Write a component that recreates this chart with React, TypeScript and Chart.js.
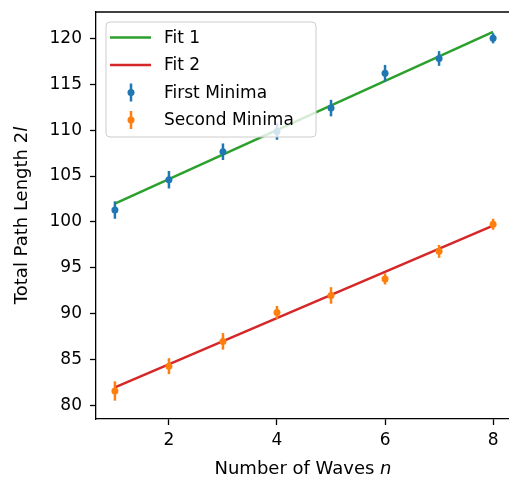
import React, { useEffect, useRef } from "react";
import { Chart, registerables } from "chart.js";

Chart.register(...registerables);

const waves = [1, 2, 3, 4, 5, 6, 7, 8];
const firstMinima = [101.3, 104.6, 107.65, 109.85, 112.4, 116.2, 117.8, 120.0];
const firstErr = [0.95, 0.95, 0.9, 0.9, 0.9, 0.9, 0.8, 0.55];
const secondMinima = [81.6, 84.3, 87.0, 90.15, 92.0, 93.8, 96.8, 99.75];
const secondErr = [1.05, 0.87, 0.9, 0.7, 0.9, 0.6, 0.7, 0.6];
const fitX = [1, 8];
const fit1 = [102.0, 120.7];
const fit2 = [82.0, 99.6];
const xTicks = [2, 4, 6, 8];
const yTicks = [80, 85, 90, 95, 100, 105, 110, 115, 120];

const FONT = "DejaVu Sans";
const FS_TICK = 17;
const FS_LEG = 17;
const FS_TITLE = 18;

const errorBarPlugin = {
  id: "errorBars",
  beforeDatasetDraw(chart: any, args: any) {
    const ds = chart.data.datasets[args.index];
    if (!ds.errors) return;
    const x = chart.scales.x;
    const y = chart.scales.y;
    const ctx = chart.ctx;
    ctx.save();
    ctx.strokeStyle = ds.backgroundColor;
    ctx.lineWidth = 2.5;
    ds.data.forEach((p: any, i: number) => {
      const e = ds.errors[i];
      const px = x.getPixelForValue(p.x);
      ctx.beginPath();
      ctx.moveTo(px, y.getPixelForValue(p.y - e));
      ctx.lineTo(px, y.getPixelForValue(p.y + e));
      ctx.stroke();
    });
    ctx.restore();
  },
};

const decorPlugin = {
  id: "decor",
  afterDraw(chart: any) {
    const ctx = chart.ctx;
    const a = chart.chartArea;
    ctx.save();
    // keep the right part of the frame open (only top and bottom spines reach the edge)
    ctx.fillStyle = "#fff";
    ctx.fillRect(500, a.top + 2, 40, a.bottom - a.top - 4);

    ctx.strokeStyle = "#000";
    ctx.lineWidth = 1.3;
    ctx.beginPath();
    ctx.moveTo(a.left, a.top);
    ctx.lineTo(a.right, a.top);
    ctx.stroke();

    const lx = 106, ly = 22, lw = 210, lh = 115, r = 4;
    ctx.beginPath();
    ctx.moveTo(lx + r, ly);
    ctx.lineTo(lx + lw - r, ly);
    ctx.quadraticCurveTo(lx + lw, ly, lx + lw, ly + r);
    ctx.lineTo(lx + lw, ly + lh - r);
    ctx.quadraticCurveTo(lx + lw, ly + lh, lx + lw - r, ly + lh);
    ctx.lineTo(lx + r, ly + lh);
    ctx.quadraticCurveTo(lx, ly + lh, lx, ly + lh - r);
    ctx.lineTo(lx, ly + r);
    ctx.quadraticCurveTo(lx, ly, lx + r, ly);
    ctx.closePath();
    ctx.fillStyle = "rgba(255,255,255,0.8)";
    ctx.fill();
    ctx.strokeStyle = "#cccccc";
    ctx.lineWidth = 1;
    ctx.stroke();

    const items = chart.data.datasets
      .slice()
      .sort((p: any, q: any) => p.legendOrder - q.legendOrder);
    ctx.font = `${FS_LEG}px '${FONT}'`;
    ctx.textBaseline = "middle";
    ctx.textAlign = "left";
    items.forEach((ds: any, i: number) => {
      const cy = 37.5 + i * 27.5;
      if (ds.errors) {
        ctx.strokeStyle = ds.backgroundColor;
        ctx.lineWidth = 2.5;
        ctx.beginPath();
        ctx.moveTo(131, cy - 9);
        ctx.lineTo(131, cy + 9);
        ctx.stroke();
        ctx.fillStyle = ds.backgroundColor;
        ctx.beginPath();
        ctx.arc(131, cy, 3.5, 0, Math.PI * 2);
        ctx.fill();
      } else {
        ctx.strokeStyle = ds.borderColor;
        ctx.lineWidth = 2.5;
        ctx.beginPath();
        ctx.moveTo(110, cy);
        ctx.lineTo(151, cy);
        ctx.stroke();
      }
      ctx.fillStyle = "#000";
      ctx.fillText(ds.label, 164, cy + 1);
    });

    const drawMixed = (parts: [string, boolean][], cx: number, cy: number) => {
      const widths = parts.map(([t, it]) => {
        ctx.font = `${it ? "italic " : ""}${FS_TITLE}px '${FONT}'`;
        return ctx.measureText(t).width;
      });
      const total = widths.reduce((s, w) => s + w, 0);
      let x0 = cx - total / 2;
      parts.forEach(([t, it], i) => {
        ctx.font = `${it ? "italic " : ""}${FS_TITLE}px '${FONT}'`;
        ctx.fillText(t, x0, cy);
        x0 += widths[i];
      });
    };
    ctx.fillStyle = "#000";
    ctx.textBaseline = "middle";
    ctx.textAlign = "left";
    drawMixed([["Number of Waves ", false], ["n", true]], 303, 469);
    ctx.save();
    ctx.translate(22, (a.top + a.bottom) / 2);
    ctx.rotate(-Math.PI / 2);
    drawMixed([["Total Path Length 2", false], ["l", true]], 0, 0);
    ctx.restore();
    ctx.restore();
  },
};

export default function App() {
  const ref = useRef<HTMLCanvasElement | null>(null);
  useEffect(() => {
    if (!ref.current) return;
    const chart = new Chart(ref.current, {
      type: "scatter",
      data: {
        datasets: [
          {
            label: "First Minima",
            data: waves.map((n, i) => ({ x: n, y: firstMinima[i] })),
            backgroundColor: "#1f77b4",
            borderColor: "#1f77b4",
            pointRadius: 3.5,
            pointBorderWidth: 0,
            order: 1,
            errors: firstErr,
            legendOrder: 2,
          } as any,
          {
            label: "Second Minima",
            data: waves.map((n, i) => ({ x: n, y: secondMinima[i] })),
            backgroundColor: "#ff7f0e",
            borderColor: "#ff7f0e",
            pointRadius: 3.5,
            pointBorderWidth: 0,
            order: 1,
            errors: secondErr,
            legendOrder: 3,
          } as any,
          {
            label: "Fit 1",
            type: "line",
            data: fitX.map((n, i) => ({ x: n, y: fit1[i] })),
            borderColor: "#2ca02c",
            backgroundColor: "#2ca02c",
            borderWidth: 2.5,
            pointRadius: 0,
            fill: false,
            order: 2,
            legendOrder: 0,
          } as any,
          {
            label: "Fit 2",
            type: "line",
            data: fitX.map((n, i) => ({ x: n, y: fit2[i] })),
            borderColor: "#d62728",
            backgroundColor: "#d62728",
            borderWidth: 2.5,
            pointRadius: 0,
            fill: false,
            order: 2,
            legendOrder: 1,
          } as any,
        ],
      },
      options: {
        animation: false,
        responsive: false,
        devicePixelRatio: 1,
        layout: { padding: { left: 0, right: 28, top: 12, bottom: 0 } },
        plugins: { legend: { display: false }, tooltip: { enabled: false } },
        scales: {
          x: {
            type: "linear",
            min: 0.65,
            max: 8.35,
            afterBuildTicks: (s: any) => {
              s.ticks = xTicks.map((v) => ({ value: v }));
            },
            afterFit: (s: any) => {
              s.height = 62;
              s.paddingLeft = 0;
              s.paddingRight = 0;
            },
            grid: {
              display: true,
              drawOnChartArea: false,
              drawTicks: true,
              tickLength: 6,
              tickWidth: 1.3,
              color: "#000",
            },
            border: { display: true, color: "#000", width: 1.3 },
            ticks: {
              color: "#000",
              font: { family: FONT, size: FS_TICK },
              padding: 5,
              maxRotation: 0,
            },
          },
          y: {
            type: "linear",
            min: 78.55,
            max: 122.86,
            afterBuildTicks: (s: any) => {
              s.ticks = yTicks.map((v) => ({ value: v }));
            },
            afterFit: (s: any) => {
              s.width = 96;
              s.paddingTop = 0;
              s.paddingBottom = 0;
            },
            grid: {
              display: true,
              drawOnChartArea: false,
              drawTicks: true,
              tickLength: 6,
              tickWidth: 1.3,
              color: "#000",
            },
            border: { display: true, color: "#000", width: 1.3 },
            ticks: {
              color: "#000",
              font: { family: FONT, size: FS_TICK },
              padding: 8,
            },
          },
        },
      },
      plugins: [errorBarPlugin, decorPlugin],
    } as any);
    return () => chart.destroy();
  }, []);
  return (
    <div
      style={{
        position: "absolute",
        left: 0,
        top: 0,
        width: 509,
        height: 481,
        overflow: "hidden",
        background: "#fff",
      }}
    >
      <canvas ref={ref} width={540} height={481} style={{ display: "block" }} />
    </div>
  );
}
